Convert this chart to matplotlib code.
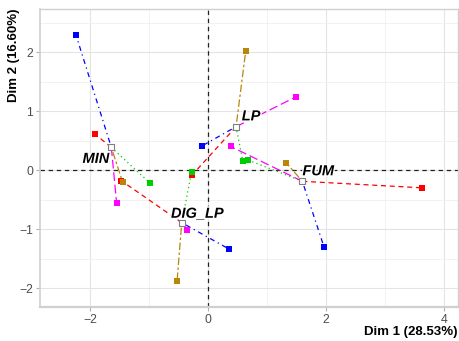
import matplotlib
matplotlib.use("Agg")
import matplotlib.pyplot as plt
import matplotlib.patheffects as pe
from matplotlib.ticker import MultipleLocator

# individus (points moyens)
individuals = ["MIN", "LP", "FUM", "DIG_LP"]
center_x = [-1.64, 0.475, 1.60, -0.446]
center_y = [0.385, 0.735, -0.19, -0.89]

# points partiels par groupe (ordre : MIN, LP, FUM, DIG_LP)
group_names = ["G1", "G2", "G3", "G4", "G5"]
partial_x = [
    [-2.24, -0.107, 1.97, 0.36],
    [-1.92, -0.266, 3.63, -1.47],
    [-0.99, 0.59, 0.68, -0.28],
    [-1.55, 1.49, 0.385, -0.35],
    [-1.45, 0.64, 1.33, -0.525],
]
partial_y = [
    [2.29, 0.407, -1.31, -1.34],
    [0.61, -0.08, -0.30, -0.18],
    [-0.215, 0.15, 0.17, -0.04],
    [-0.565, 1.24, 0.40, -1.02],
    [-0.20, 2.02, 0.12, -1.88],
]
group_colors = ["#0000FF", "#FF0000", "#00CD00", "#FF00FF", "#B8860B"]
group_dashes = [(1, 3, 4, 3), (4, 3), (1, 2.5), (7, 3), (2, 2, 6, 2)]

# position des étiquettes
label_x = [-1.90, 0.73, 1.87, -0.18]
label_y = [0.19, 0.91, -0.02, -0.74]

plt.rcParams['font.family'] = ['Liberation Sans', 'DejaVu Sans']

fig = plt.figure(figsize=(4.59, 3.41), dpi=100)
ax = fig.add_axes([40 / 459, 34 / 341, 418 / 459, 298 / 341])

ax.set_xlim(-2.85, 4.24)
ax.set_ylim(-2.32, 2.73)

ax.xaxis.set_major_locator(MultipleLocator(2))
ax.xaxis.set_minor_locator(MultipleLocator(1))
ax.yaxis.set_major_locator(MultipleLocator(1))
ax.yaxis.set_minor_locator(MultipleLocator(0.5))
ax.grid(which='major', color='#E4E4E4', linewidth=0.8, zorder=0)
ax.grid(which='minor', color='#F0F0F0', linewidth=0.6, zorder=0)
ax.set_axisbelow(True)

for s in ax.spines.values():
    s.set_color('#D0D0D0')
    s.set_linewidth(1.0)
ax.spines['bottom'].set_linewidth(1.6)
ax.spines['left'].set_linewidth(1.2)

ax.tick_params(which='major', length=3, color='#B0B0B0', labelsize=8.8,
               labelcolor='#4D4D4D', pad=2)
ax.tick_params(which='minor', length=0)

ax.axhline(0, color='#222222', linestyle=(0, (3.5, 3)), linewidth=0.9, zorder=1)
ax.axvline(0, color='#222222', linestyle=(0, (3.5, 3)), linewidth=0.9, zorder=1)

# segments centre -> point partiel
for g in range(len(group_names)):
    for i in range(len(individuals)):
        ax.plot([center_x[i], partial_x[g][i]], [center_y[i], partial_y[g][i]],
                color=group_colors[g], linestyle=(0, group_dashes[g]),
                linewidth=0.9, zorder=2)

for g in range(len(group_names)):
    ax.scatter(partial_x[g], partial_y[g], marker='s', s=18,
               color=group_colors[g], linewidths=0, zorder=3)

ax.scatter(center_x, center_y, marker='s', s=22, facecolors='white',
           edgecolors='#7F7F7F', linewidths=0.8, zorder=4)

for name, lx, ly in zip(individuals, label_x, label_y):
    ax.text(lx, ly, name, fontsize=10.5, fontweight='bold', fontstyle='italic',
            ha='center', va='center', color='black', zorder=5,
            path_effects=[pe.withStroke(linewidth=2, foreground='white')])

fig.text(458 / 459, 1 - 332.5 / 341, "Dim 1 (28.53%)", ha='right', va='center',
         fontsize=9.5, fontweight='bold')
fig.text(14 / 459, 1 - 9 / 341, "Dim 2 (16.60%)", ha='center', va='top',
         rotation=90, fontsize=9.5, fontweight='bold')

fig.savefig("out.png", dpi=100)
